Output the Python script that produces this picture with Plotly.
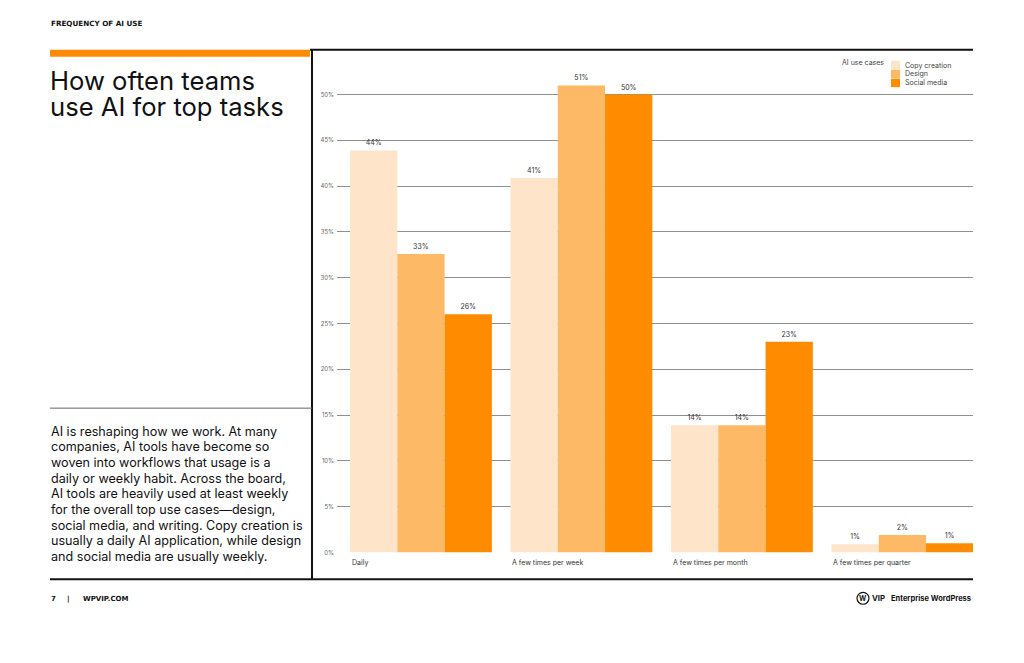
import plotly.graph_objects as go

W, H = 1024, 663

categories = ["Daily", "A few times per week", "A few times per month", "A few times per quarter"]
series_names = ["Copy creation", "Design", "Social media"]
copy_creation = [43.9, 40.9, 13.9, 0.9]
design = [32.6, 51.0, 13.9, 1.9]
social_media = [26.0, 50.0, 23.0, 1.0]
copy_labels = ["44%", "41%", "14%", "1%"]
design_labels = ["33%", "51%", "14%", "2%"]
social_labels = ["26%", "50%", "23%", "1%"]
y_ticks = [0, 5, 10, 15, 20, 25, 30, 35, 40, 45, 50]
y_tick_labels = [f"{t}%" for t in y_ticks]

colors = ["#FEE5CA", "#FDB965", "#FE8B00"]
FONT = "Inter, Noto Sans, sans-serif"
WIDE = "DejaVu Sans, sans-serif"
BARGAP = 0.116


def px(x):
    return x / W


def py(y):
    return 1 - y / H


fig = go.Figure()
for name, vals, labels, col in zip(series_names,
                                   [copy_creation, design, social_media],
                                   [copy_labels, design_labels, social_labels],
                                   colors):
    fig.add_trace(go.Bar(
        x=list(range(len(categories))), y=vals, name=name,
        marker=dict(color=col, line=dict(width=0)),
        text=labels, textposition="outside",
        textfont=dict(size=7, color="#333333", family=FONT),
        cliponaxis=False, showlegend=False,
        hovertext=categories,
    ))

fig.update_layout(
    width=W, height=H,
    margin=dict(l=0, r=0, t=0, b=0),
    paper_bgcolor="white", plot_bgcolor="white",
    barmode="group", bargap=BARGAP, bargroupgap=0,
    font=dict(family=FONT, color="#111111"),
    xaxis=dict(domain=[px(337), px(973)], range=[-0.523, 3.44],
               showticklabels=False, showgrid=False, zeroline=False,
               showline=False, ticks=""),
    yaxis=dict(domain=[py(555), py(49)], range=[0, 55],
               tickvals=y_ticks, ticktext=y_tick_labels,
               tickfont=dict(size=6, color="#666666", family=FONT),
               showgrid=True, gridcolor="#8f8f8f", gridwidth=1,
               zeroline=False, showline=False, ticks="", ticklabelstandoff=2),
)

shapes = []
# orange header bar
shapes.append(dict(type="rect", xref="paper", yref="paper",
                   x0=px(50), x1=px(310), y0=py(57), y1=py(50),
                   fillcolor="#FE8B00", line=dict(width=0)))
# top black line
shapes.append(dict(type="line", xref="paper", yref="paper",
                   x0=px(310), x1=px(973), y0=py(50), y1=py(50),
                   line=dict(color="#111111", width=2)))
# vertical divider
shapes.append(dict(type="line", xref="paper", yref="paper",
                   x0=px(312), x1=px(312), y0=py(50), y1=py(582),
                   line=dict(color="#111111", width=2)))
# gray separator above paragraph
shapes.append(dict(type="line", xref="paper", yref="paper",
                   x0=px(50), x1=px(312), y0=py(410), y1=py(410),
                   line=dict(color="#666666", width=1)))
# bottom black line
shapes.append(dict(type="line", xref="paper", yref="paper",
                   x0=px(50), x1=px(973), y0=py(582), y1=py(582),
                   line=dict(color="#111111", width=2)))

annotations = []


def text(x, y, s, size, color="#111111", anchor="left", bold=False, family=FONT):
    annotations.append(dict(xref="paper", yref="paper", x=px(x), y=py(y),
                            text=f"<b>{s}</b>" if bold else s,
                            showarrow=False, xanchor=anchor, yanchor="middle",
                            font=dict(size=size, color=color, family=family)))


text(49, 24, "FREQUENCY OF AI USE", 7.2, "#111111", bold=True, family=WIDE)
text(48, 81, "How often teams", 25.6)
text(48, 107, "use AI for top tasks", 25.6)

paragraph = [
    "AI is reshaping how we work. At many",
    "companies, AI tools have become so",
    "woven into workflows that usage is a",
    "daily or weekly habit. Across the board,",
    "AI tools are heavily used at least weekly",
    "for the overall top use cases\u2014design,",
    "social media, and writing. Copy creation is",
    "usually a daily AI application, while design",
    "and social media are usually weekly.",
]
for i, line in enumerate(paragraph):
    text(49, 433 + i * 15.75, line, 12.6, "#111111")

text(49, 602, "7", 7, bold=True, family=WIDE)
text(65, 602, "|", 7, bold=True, family=WIDE)
text(81, 602, "WPVIP.COM", 7, bold=True, family=WIDE)

# logo
shapes.append(dict(type="circle", xref="paper", yref="paper",
                   x0=px(857), x1=px(869), y0=py(607), y1=py(595),
                   line=dict(color="#111111", width=1.2)))
text(863, 601.5, "W", 7, anchor="center", bold=True)
text(870, 601, "VIP", 7.8, bold=True)
text(973, 601, "Enterprise WordPress", 7.5, anchor="right", bold=True)

# category labels, left-aligned with each bar group
for i, c in enumerate(categories):
    annotations.append(dict(xref="x", yref="paper", x=i - (1 - BARGAP) / 2, y=py(565),
                            text=c, showarrow=False, xanchor="left", yanchor="middle",
                            font=dict(size=7, color="#333333", family=FONT)))

# legend (manual)
text(886, 63, "AI use cases", 7, "#444444", anchor="right")
for i, (name, col) in enumerate(zip(series_names, colors)):
    y0 = 61 + i * 9
    shapes.append(dict(type="rect", xref="paper", yref="paper",
                       x0=px(891), x1=px(900), y0=py(y0 + 8.5), y1=py(y0),
                       fillcolor=col, line=dict(width=0)))
    text(903, y0 + 4.3, name, 7, "#444444")

fig.update_layout(shapes=shapes, annotations=annotations)

fig.write_html("out.html", config={"displayModeBar": False},
               post_script="document.body.style.margin='0';")
